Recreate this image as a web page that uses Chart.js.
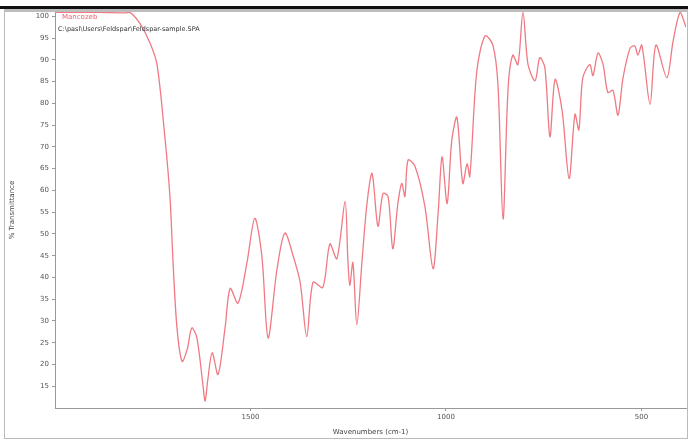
<!DOCTYPE html>
<html>
<head>
<meta charset="utf-8">
<script src="https://cdn.jsdelivr.net/npm/chart.js@4/dist/chart.umd.min.js"></script>
<style>
  html,body{margin:0;padding:0;background:#fff;}
  #wrap{position:relative;width:688px;height:441px;overflow:hidden;}
  canvas{position:absolute;left:0;top:0;}
  .topbar{position:absolute;left:0;top:6px;width:688px;height:3px;background:#111;}
  .topshade{position:absolute;left:4px;top:9px;width:684px;height:3px;background:#bdbdbd;}
  .leftline{position:absolute;left:4px;top:9px;width:1px;height:430px;background:#bbb;}
  .rightline{position:absolute;left:687px;top:9px;width:1px;height:430px;background:#bbb;}
  .botline{position:absolute;left:4px;top:438px;width:684px;height:1px;background:#bbb;}
  .leg1{position:absolute;left:62px;top:13px;font:7px "DejaVu Sans",sans-serif;color:#e8646e;}
  .leg2{position:absolute;left:58px;top:25px;font:6.5px "DejaVu Sans",sans-serif;color:#333;white-space:nowrap;}
</style>
</head>
<body>
<div id="wrap">
  <canvas id="c" width="688" height="441"></canvas>
  <div class="topbar"></div>
  <div class="topshade"></div>
  <div class="leftline"></div>
  <div class="rightline"></div>
  <div class="botline"></div>
  <div class="leg1">Mancozeb</div>
  <div class="leg2">C:\pasl\Users\Feldspar\Feldspar-sample.SPA</div>
</div>
<script>
const seriesName = "Mancozeb";
const xTickLabels = [1500, 1000, 500];
const yTickLabels = [15,20,25,30,35,40,45,50,55,60,65,70,75,80,85,90,95,100];
const wavenumbers = [2000,1885,1821,1808,1783,1757,1739,1719,1706,1698,1688,1675,1662,1650,1637,1621,1616,1609,1598,1583,1565,1552,1532,1509,1489,1471,1455,1432,1412,1391,1373,1356,1340,1315,1297,1279,1258,1251,1246,1238,1228,1215,1202,1189,1174,1161,1148,1136,1123,1113,1105,1097,1079,1054,1033,1020,1010,997,985,972,957,946,939,921,900,880,867,854,841,829,816,803,790,772,760,747,734,721,703,685,670,660,650,632,624,611,598,586,573,560,547,529,517,509,499,478,463,435,419,401,386];
const transmittance = [100.9,100.9,100.8,100.9,98.4,93.9,88.9,72.3,58.6,43.4,28.4,20.7,23.4,28.4,26.1,14.8,11.6,16.6,22.7,17.7,28.4,37.5,34.1,43.4,53.6,45.0,26.1,42.0,50.2,45.0,38.9,26.4,38.9,37.7,47.7,44.3,57.5,44.3,38.2,43.4,29.1,43.4,57.0,63.9,51.8,59.3,58.6,46.6,57.0,61.6,58.6,67.0,65.5,56.4,42.0,54.8,67.7,57.0,71.6,76.8,61.6,66.1,63.2,87.5,95.5,93.4,84.3,53.4,83.6,91.1,88.9,100.9,88.9,85.2,90.5,88.2,72.3,85.5,78.4,62.7,77.5,73.9,85.9,88.9,86.4,91.6,88.9,82.5,83.0,77.3,85.9,92.7,93.2,91.1,93.4,79.8,93.4,85.9,94.3,100.9,97.5];

const points = wavenumbers.map((w,i)=>({x:w,y:transmittance[i]}));
const tickFont = {family:"DejaVu Sans", size:7};

new Chart(document.getElementById('c'), {
  type:'line',
  data:{datasets:[{label:seriesName,data:points,borderColor:'rgb(240,122,132)',borderWidth:1.3,pointRadius:0,tension:0.3,fill:false}]},
  options:{
    responsive:false,animation:false,
    layout:{padding:{left:8,right:2,top:12,bottom:0}},
    plugins:{legend:{display:false},tooltip:{enabled:false}},
    scales:{
      x:{type:'linear',reverse:true,min:386,max:2000,
        afterBuildTicks:(s)=>{s.ticks=xTickLabels.map(v=>({value:v}));},
        afterFit:(s)=>{s.height=33;},
        grid:{drawOnChartArea:false,tickLength:3,color:'#999'},
        border:{color:'#999'},
        ticks:{font:tickFont,color:'#555',padding:2,maxRotation:0,callback:(v)=>String(v)},
        title:{display:true,text:'Wavenumbers (cm-1)',font:tickFont,color:'#444',padding:{top:1,bottom:5}}
      },
      y:{min:10,max:101,
        afterBuildTicks:(s)=>{s.ticks=yTickLabels.map(v=>({value:v}));},
        afterFit:(s)=>{s.width=47;},
        grid:{drawOnChartArea:false,tickLength:3,color:'#999'},
        border:{color:'#999'},
        ticks:{font:tickFont,color:'#555',padding:3,callback:(v)=>String(v)},
        title:{display:true,text:'% Transmittance',font:tickFont,color:'#444',padding:{top:0,bottom:2}}
      }
    }
  }
});
</script>
</body>
</html>
